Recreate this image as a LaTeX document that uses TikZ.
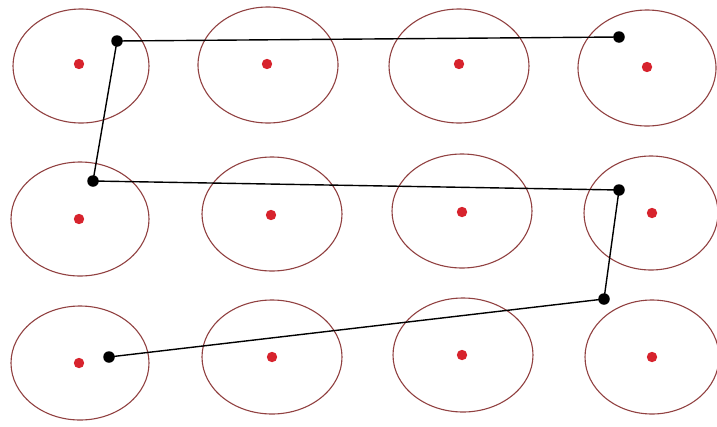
\documentclass[tikz,border=0pt]{standalone}
\usepackage{tikz}
\tikzset{>=latex}
\usepackage{xcolor}
\definecolor{ringcol}{RGB}{145,65,65}
\definecolor{atomcol}{RGB}{215,35,45}
\tikzstyle{ring}=[draw=ringcol,line width=1.1]
\tikzstyle{atom}=[fill=atomcol]
\tikzstyle{hop}=[circle,fill=black,inner sep=0,minimum size=11.5]
\tikzstyle{walk}=[line width=1.4,black]

\begin{document}
\begin{tikzpicture}[x=1pt,y=-1pt]
  \useasboundingbox (0,0) rectangle (717,426);
  % ellipses: cx/cy/rx/ry
  \foreach \cx/\cy/\rx/\ry in {81/66/68/57, 268/65/70/58, 459/66/70/57, 647/68/69/58,
                              80/219/69/57, 272/214/70/57, 462/211/70/57, 651/213/67/57,
                              80/363/69/57, 272/357/70/57, 463/355/70/57, 652/357/67/57}{
    \draw[ring] (\cx,\cy) ellipse [x radius=\rx, y radius=\ry];
  }
  % centres
  \foreach \ax/\ay in {79/64, 267/64, 459/64, 647/67,
                       79/219, 271/215, 462/212, 652/213,
                       79/363, 272/357, 462/355, 652/357}{
    \fill[atom] (\ax,\ay) circle (5.2);
  }
  % walk
  \node[hop] (p1) at (117,41) {};
  \node[hop] (p2) at (93,181) {};
  \node[hop] (p3) at (619,37) {};
  \node[hop] (p4) at (619,190) {};
  \node[hop] (p5) at (604,299) {};
  \node[hop] (p6) at (109,357) {};
  \draw[walk] (p3.center) -- (p1.center) -- (p2.center) -- (p4.center) -- (p5.center) -- (p6.center);
\end{tikzpicture}
\end{document}
